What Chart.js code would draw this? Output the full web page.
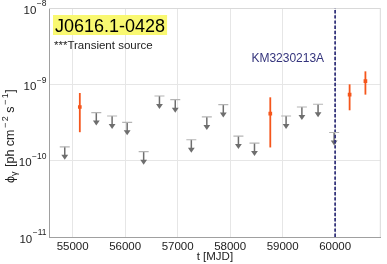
<!DOCTYPE html>
<html>
<head>
<meta charset="utf-8">
<script src="https://cdn.jsdelivr.net/npm/chart.js@4.4.1/dist/chart.umd.min.js"></script>
<style>
  html, body { margin: 0; padding: 0; background: #ffffff; }
  #wrap { width: 387px; height: 264px; position: relative; }
</style>
</head>
<body>
<div id="wrap"><canvas id="c" width="387" height="264"></canvas></div>
<script>
// ---- data ----
const sourceName = 'J0616.1-0428';
const sourceNote = '***Transient source';
const eventName = 'KM3230213A';
const eventMJD = 60000;

// upper limits (grey arrows)
const ulMJD  = [54850, 55451, 55752, 56039, 56353, 56654, 56955, 57261, 57556, 57870, 58158, 58464, 59066, 59367, 59675, 59981];
const ulFlux = [1.52e-10, 4.27e-10, 3.85e-10, 3.18e-10, 1.31e-10, 7.03e-10, 6.3e-10, 1.88e-10, 3.74e-10, 5.43e-10, 2.1e-10, 1.7e-10, 3.85e-10, 5.05e-10, 5.48e-10, 2.34e-10];

// detections (orange points with error bars)
const detMJD  = [55137, 58765, 60276, 60577];
const detFlux = [5.05e-10, 4.14e-10, 7.34e-10, 1.10e-9];
const detLo   = [2.36e-10, 1.49e-10, 4.57e-10, 7.33e-10];
const detHi   = [7.70e-10, 6.76e-10, 1.00e-9, 1.48e-9];

// axes
const xTicks = [55000, 56000, 57000, 58000, 59000, 60000];
const yExponents = [-11, -10, -9, -8];
const xRange = [54550, 60870];
const yRange = [1e-11, 1e-8];

// ---- styles ----
const FONT = "'Liberation Sans', Arial, sans-serif";
const ORANGE = '#f5561c';
const GREY = '#6e6e6e';
const CAPGREY = '#b4b4b4';
const NAVY = '#34347c';

const ulPoints = ulMJD.map((x, i) => ({ x: x, y: ulFlux[i] }));
const detPoints = detMJD.map((x, i) => ({ x: x, y: detFlux[i] }));

const overlay = {
  id: 'overlay',
  beforeDatasetsDraw(chart) {
    const ctx = chart.ctx, xs = chart.scales.x, ys = chart.scales.y, ca = chart.chartArea;
    ctx.save();
    // top / right frame
    ctx.strokeStyle = '#d9d9d9';
    ctx.lineWidth = 1;
    ctx.beginPath();
    ctx.moveTo(ca.left, ca.top + 0.5); ctx.lineTo(ca.right - 0.5, ca.top + 0.5); ctx.lineTo(ca.right - 0.5, ca.bottom);
    ctx.stroke();
    // error bars
    ctx.strokeStyle = ORANGE;
    ctx.lineWidth = 1.8;
    detMJD.forEach((m, i) => {
      const px = xs.getPixelForValue(m);
      ctx.beginPath();
      ctx.moveTo(px, ys.getPixelForValue(detLo[i]));
      ctx.lineTo(px, ys.getPixelForValue(detHi[i]));
      ctx.stroke();
    });
    // upper limit arrows
    ulMJD.forEach((m, i) => {
      const px = xs.getPixelForValue(m);
      const py = ys.getPixelForValue(ulFlux[i]);
      ctx.strokeStyle = GREY; ctx.lineWidth = 1.5;
      ctx.beginPath(); ctx.moveTo(px, py); ctx.lineTo(px, py + 9); ctx.stroke();
      ctx.fillStyle = GREY;
      ctx.beginPath(); ctx.moveTo(px - 3.4, py + 8); ctx.lineTo(px + 3.4, py + 8); ctx.lineTo(px, py + 13); ctx.closePath(); ctx.fill();
    });
    ctx.restore();
  },
  afterDraw(chart) {
    const ctx = chart.ctx, xs = chart.scales.x, ys = chart.scales.y, ca = chart.chartArea;
    ctx.save();
    // y tick labels 10^n
    yExponents.forEach(e => {
      const py = ys.getPixelForValue(Math.pow(10, e));
      const expStr = '\u2212' + Math.abs(e);
      ctx.fillStyle = '#222';
      ctx.font = '8.5px ' + FONT;
      ctx.textAlign = 'right'; ctx.textBaseline = 'middle';
      const right = 46.5;
      ctx.fillText(expStr, right, py - 4);
      const w = ctx.measureText(expStr).width;
      ctx.font = '11.5px ' + FONT;
      ctx.fillText('10', right - w - 0.5, py + 2.5);
    });
    // x axis title
    ctx.font = '11.5px ' + FONT;
    ctx.fillStyle = '#222';
    ctx.textAlign = 'center'; ctx.textBaseline = 'alphabetic';
    ctx.fillText('t [MJD]', (ca.left + ca.right) / 2, 259.5);
    // y axis title (rotated, built from pieces)
    ctx.save();
    ctx.translate(14, 183);
    ctx.rotate(-Math.PI / 2);
    ctx.textAlign = 'left'; ctx.textBaseline = 'alphabetic';
    let x = 0;
    const piece = (t, size, dy, gapAfter) => {
      ctx.font = size + 'px ' + FONT;
      ctx.fillText(t, x, dy);
      x += ctx.measureText(t).width + (gapAfter || 0);
    };
    piece('\u03d5', 12.5, 0);
    piece('\u03b3', 9, 3, 1);
    piece(' [ph cm', 12.5, 0, 1.5);
    piece('\u2212', 9, -6, 1.5);
    piece('2', 9, -6, 0);
    piece(' s', 12.5, 0, 1.5);
    piece('\u2212', 9, -6, 1.5);
    piece('1', 9, -6, 0.5);
    piece(']', 12.5, 0);
    ctx.restore();
    // title box
    ctx.font = '18px ' + FONT;
    const tw = ctx.measureText(sourceName).width;
    ctx.fillStyle = '#f9f871';
    ctx.fillRect(53, 15, tw + 4, 20);
    ctx.fillStyle = '#000';
    ctx.textAlign = 'left'; ctx.textBaseline = 'alphabetic';
    ctx.fillText(sourceName, 55, 32);
    ctx.font = '11.5px ' + FONT;
    ctx.fillStyle = '#222';
    ctx.fillText(sourceNote, 54, 49);
    // event label
    ctx.font = '12px ' + FONT;
    ctx.fillStyle = NAVY;
    ctx.textAlign = 'right'; ctx.textBaseline = 'middle';
    ctx.fillText(eventName, xs.getPixelForValue(eventMJD) - 11, 58.5);
    ctx.restore();
  }
};

new Chart(document.getElementById('c'), {
  type: 'scatter',
  data: {
    datasets: [
      {
        type: 'line',
        data: [{ x: eventMJD, y: yRange[0] }, { x: eventMJD, y: yRange[1] }],
        borderColor: NAVY, borderWidth: 1.8, borderDash: [3.4, 1.8],
        pointRadius: 0, fill: false, order: 3
      },
      {
        data: ulPoints,
        pointStyle: 'line', pointRadius: 5, borderColor: CAPGREY, backgroundColor: CAPGREY,
        pointBorderWidth: 1.2, order: 2
      },
      {
        data: detPoints,
        pointStyle: 'rect', pointRadius: 2.6, backgroundColor: ORANGE, borderColor: ORANGE,
        pointBorderWidth: 0, order: 1
      }
    ]
  },
  options: {
    responsive: false,
    animation: false,
    devicePixelRatio: 1,
    layout: { padding: { top: 8, right: 2, left: 0, bottom: 0 } },
    plugins: { legend: { display: false }, tooltip: { enabled: false } },
    scales: {
      x: {
        type: 'linear', min: xRange[0], max: xRange[1],
        afterBuildTicks: s => { s.ticks = xTicks.map(v => ({ value: v })); },
        afterFit: s => { s.height = 27; },
        grid: { color: '#e6e6e6', drawTicks: false, lineWidth: 1 },
        border: { color: '#a0a0a0', width: 1 },
        ticks: { color: '#222', font: { family: FONT, size: 11.5 }, padding: 3, maxRotation: 0, autoSkip: false, callback: v => String(v) }
      },
      y: {
        type: 'logarithmic', min: yRange[0], max: yRange[1],
        afterBuildTicks: s => { s.ticks = yExponents.map(e => ({ value: Math.pow(10, e), major: true })); },
        afterFit: s => { s.width = 49; },
        grid: { color: '#e6e6e6', drawTicks: false, lineWidth: 1 },
        border: { color: '#a0a0a0', width: 1 },
        ticks: { display: false }
      }
    }
  },
  plugins: [overlay]
});
</script>
</body>
</html>
